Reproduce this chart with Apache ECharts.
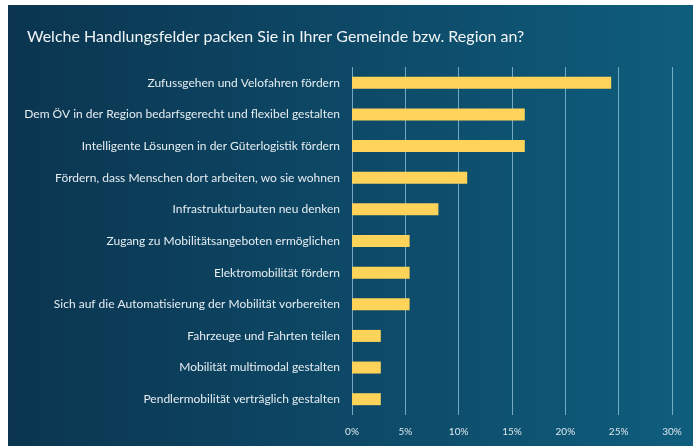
<!DOCTYPE html>
<html>
<head>
<meta charset="utf-8">
<script src="https://cdn.jsdelivr.net/npm/echarts@6/dist/echarts.min.js"></script>
<style>
  html, body { margin: 0; padding: 0; background: #fff; }
  #chart { width: 693px; height: 446px; }
</style>
</head>
<body>
<div id="chart"></div>
<script>
// Kategorien von oben nach unten
const categories = [
  'Zufussgehen und Velofahren fördern',
  'Dem ÖV in der Region bedarfsgerecht und flexibel gestalten',
  'Intelligente Lösungen in der Güterlogistik fördern',
  'Fördern, dass Menschen dort arbeiten, wo sie wohnen',
  'Infrastrukturbauten neu denken',
  'Zugang zu Mobilitätsangeboten ermöglichen',
  'Elektromobilität fördern',
  'Sich auf die Automatisierung der Mobilität vorbereiten',
  'Fahrzeuge und Fahrten teilen',
  'Mobilität multimodal gestalten',
  'Pendlermobilität verträglich gestalten',
]
// Anteile in %
const shares = [24.3, 16.2, 16.2, 10.8, 8.1, 5.4, 5.4, 5.4, 2.7, 2.7, 2.7]
const axisMax = 30
const axisStep = 5

const chart = echarts.init(document.getElementById('chart'))

chart.setOption({
  backgroundColor: '#ffffff',
  animation: false,
  textStyle: { fontFamily: 'Lato, "Open Sans", sans-serif' },
  graphic: [{
    type: 'rect',
    z: -10,
    silent: true,
    shape: { x: 8, y: 5, width: 685, height: 441 },
    style: {
      fill: new echarts.graphic.LinearGradient(0, 0, 1, 0, [
        { offset: 0, color: '#0b3550' },
        { offset: 1, color: '#0f5d7d' },
      ]),
    },
  }],
  title: {
    text: 'Welche Handlungsfelder packen Sie in Ihrer Gemeinde bzw. Region an?',
    left: 27,
    top: 29,
    padding: 0,
    textStyle: { color: '#f2f5f7', fontSize: 16, fontWeight: 'normal', fontFamily: 'Lato, sans-serif' },
  },
  grid: { left: 352, right: 21, top: 67, bottom: 31, containLabel: false },
  xAxis: {
    type: 'value',
    min: 0,
    max: axisMax,
    interval: axisStep,
    axisLine: { show: false },
    axisTick: { show: false },
    splitLine: { lineStyle: { color: 'rgba(150,200,222,0.75)', width: 1 } },
    axisLabel: {
      color: '#dfe8ee',
      fontSize: 10,
      margin: 12,
      formatter: (v) => v + '%',
    },
  },
  yAxis: {
    type: 'category',
    inverse: true,
    data: categories,
    axisLine: { show: false },
    axisTick: { show: false },
    axisLabel: { color: '#e6edf2', fontSize: 12, margin: 12 },
  },
  series: [{
    type: 'bar',
    data: shares,
    barWidth: 12,
    itemStyle: { color: '#fdd35a' },
  }],
})
</script>
</body>
</html>
